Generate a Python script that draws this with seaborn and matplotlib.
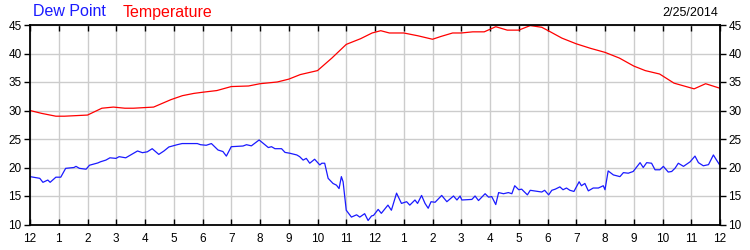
import matplotlib
matplotlib.use("Agg")
import matplotlib.pyplot as plt
import seaborn as sns
import pandas as pd

# ---- data ----
temp_hours = [0, 0.4, 0.9, 1.2, 2.0, 2.5, 2.9, 3.3, 3.6, 4.3, 4.9, 5.3, 5.7, 6.0, 6.5, 7.0, 7.6,
              8.0, 8.6, 9.0, 9.4, 10.0, 10.5, 11.0, 11.5, 11.9, 12.2, 12.5, 13.0, 13.5, 14.0, 14.3,
              14.7, 15.0, 15.4, 15.8, 16.2, 16.6, 17.0, 17.4, 17.8, 18.1, 18.5, 19.0, 19.5, 20.0,
              20.5, 21.0, 21.4, 21.9, 22.4, 23.1, 23.5, 24.0]
temperature = [30.0, 29.5, 29.0, 29.0, 29.2, 30.4, 30.6, 30.4, 30.4, 30.6, 31.9, 32.6, 33.0, 33.2,
               33.5, 34.2, 34.3, 34.7, 35.0, 35.5, 36.3, 37.0, 39.2, 41.6, 42.6, 43.6, 44.0, 43.6,
               43.6, 43.1, 42.5, 43.0, 43.6, 43.6, 43.8, 43.8, 44.7, 44.1, 44.1, 44.9, 44.6, 43.8,
               42.7, 41.7, 40.9, 40.2, 39.2, 37.8, 37.0, 36.4, 34.8, 33.8, 34.7, 33.9]

dew_hours = [0, 0.34, 0.45, 0.62, 0.7, 0.9, 1.07, 1.24, 1.53, 1.6, 1.72, 1.95, 2.07, 2.36, 2.45,
             2.64, 2.78, 2.99, 3.1, 3.33, 3.5, 3.74, 3.91, 4.08, 4.25, 4.48, 4.66, 4.83, 5.12, 5.29,
             5.53, 5.82, 5.93, 6.13, 6.31, 6.54, 6.71, 6.83, 7.0, 7.41, 7.53, 7.7, 7.97, 8.29, 8.4,
             8.52, 8.75, 8.87, 9.04, 9.28, 9.38, 9.5, 9.61, 9.73, 9.9, 10.08, 10.15, 10.25, 10.37,
             10.54, 10.66, 10.75, 10.83, 10.89, 11.0, 11.18, 11.36, 11.47, 11.64, 11.76, 11.88,
             11.95, 12.11, 12.22, 12.45, 12.57, 12.75, 12.92, 13.1, 13.21, 13.39, 13.48, 13.62,
             13.74, 13.85, 13.95, 14.09, 14.32, 14.5, 14.73, 14.85, 14.96, 15.02, 15.37, 15.48,
             15.6, 15.83, 15.95, 16.06, 16.2, 16.3, 16.47, 16.64, 16.76, 16.86, 17.0, 17.1, 17.3,
             17.4, 17.8, 17.9, 18.04, 18.15, 18.27, 18.43, 18.54, 18.66, 18.78, 18.92, 19.1,
             19.18, 19.3, 19.42, 19.59, 19.77, 19.94, 20.0, 20.11, 20.29, 20.52, 20.64, 20.81,
             20.98, 21.22, 21.33, 21.45, 21.62, 21.74, 21.91, 22.03, 22.2, 22.32, 22.44, 22.55,
             22.73, 22.96, 23.13, 23.25, 23.42, 23.6, 23.77, 23.88, 23.99]
dew_point = [18.4, 18.1, 17.4, 17.8, 17.4, 18.3, 18.3, 19.85, 20.0, 20.2, 19.85, 19.7, 20.4, 20.8,
             21.0, 21.3, 21.7, 21.6, 21.9, 21.7, 22.2, 22.9, 22.6, 22.75, 23.3, 22.3, 22.9, 23.6,
             24.0, 24.2, 24.2, 24.2, 24.0, 23.9, 24.2, 23.07, 22.8, 22.0, 23.65, 23.77, 24.0, 23.8,
             24.83, 23.5, 23.65, 23.3, 23.3, 22.65, 22.5, 22.2, 21.9, 21.3, 21.6, 20.75, 21.45,
             20.45, 20.75, 20.75, 18.1, 17.2, 16.9, 16.3, 18.4, 17.5, 12.5, 11.3, 11.7, 11.3, 11.9,
             10.7, 11.5, 11.6, 12.65, 11.96, 13.4, 12.5, 15.5, 13.7, 14.0, 13.4, 14.3, 13.7, 15.1,
             13.7, 12.85, 14.0, 13.9, 15.1, 14.0, 15.0, 14.3, 15.0, 14.3, 14.4, 15.0, 14.2, 15.4,
             14.8, 14.9, 13.5, 15.6, 15.4, 15.6, 15.4, 16.8, 16.1, 16.2, 15.2, 16.0, 15.7, 16.0,
             15.2, 16.0, 16.2, 16.6, 16.1, 16.4, 16.0, 15.8, 17.5, 16.8, 17.2, 15.9, 16.4, 16.4,
             16.8, 16.1, 19.4, 18.7, 18.4, 19.1, 19.0, 19.3, 20.85, 20.0, 20.85, 20.75, 19.6, 19.6,
             20.2, 19.2, 19.3, 19.9, 20.75, 20.2, 21.0, 22.0, 20.85, 20.3, 20.5, 22.2, 21.3, 20.45]

x_ticks = list(range(0, 25))
x_tick_labels = ["12"] + [str(h) for h in range(1, 12)] + ["12"] + [str(h) for h in range(1, 12)] + ["12"]
y_ticks = [10, 15, 20, 25, 30, 35, 40, 45]
series_names = ["Dew Point", "Temperature"]
date_label = "2/25/2014"

# ---- plot ----
sns.set_theme(style="white")
plt.rcParams["font.family"] = ["Liberation Sans", "DejaVu Sans"]

fig = plt.figure(figsize=(7.5, 2.5), dpi=100)
ax = fig.add_axes([30 / 750, 1 - 224.5 / 250, 690 / 750, 199.5 / 250])

df_t = pd.DataFrame({"hour": temp_hours, "value": temperature})
df_d = pd.DataFrame({"hour": dew_hours, "value": dew_point})
sns.lineplot(data=df_t, x="hour", y="value", ax=ax, color="#ff0000", linewidth=0.9,
             estimator=None, sort=False)
sns.lineplot(data=df_d, x="hour", y="value", ax=ax, color="#1a1aff", linewidth=0.9,
             estimator=None, sort=False)

ax.set_xlim(0, 24)
ax.set_ylim(10, 45)
ax.set_xticks(x_ticks)
ax.set_xticklabels(x_tick_labels)
ax.set_yticks(y_ticks)
ax.set_xlabel("")
ax.set_ylabel("")
ax.grid(True, color="#cccccc", linewidth=1.0)
ax.set_axisbelow(True)
for s in ax.spines.values():
    s.set_color("black")
    s.set_linewidth(1.3)
    s.set_visible(True)
ax.tick_params(axis="x", direction="in", top=True, bottom=True, length=4, width=1,
               colors="black", labelsize=8.5, pad=6)
ax.tick_params(axis="y", direction="out", left=True, right=True, labelleft=True,
               labelright=True, length=4, width=1, colors="black", labelsize=8.5, pad=2)

fig.text(33 / 750, 1 - 12 / 250, series_names[0], color="#1a1aff", fontsize=11.5, va="center", ha="left")
fig.text(123 / 750, 1 - 12 / 250, series_names[1], color="#ff0000", fontsize=11.5, va="center", ha="left")
fig.text(718 / 750, 1 - 13 / 250, date_label, color="black", fontsize=9, va="center", ha="right")

fig.savefig("out.png", dpi=100, facecolor="white")
